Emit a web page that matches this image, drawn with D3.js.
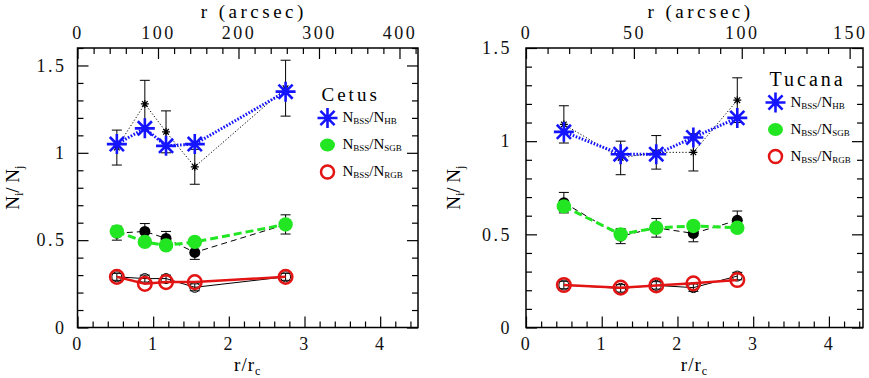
<!DOCTYPE html>
<html>
<head>
<meta charset="utf-8">
<script src="https://cdn.jsdelivr.net/npm/d3@7"></script>
<style>
  body { margin: 0; background: #fff; }
  svg { display: block; }
  .tick text { font-family: "Liberation Serif", serif; font-size: 18px; letter-spacing: 2.5px; fill: #111; }
</style>
</head>
<body>
<div id="chart"></div>
<script>
// Cetus
const cetusR = [0.52, 0.89, 1.17, 1.55, 2.75];
const cetusHB = [1.05, 1.14, 1.04, 1.05, 1.35];
const cetusHBk = [1.03, 1.28, 1.12, 0.92, 1.37];
const cetusHBkErr = [0.10, 0.135, 0.12, 0.10, 0.16];
const cetusSGB = [0.55, 0.49, 0.47, 0.49, 0.59];
const cetusSGBk = [0.54, 0.55, 0.51, 0.43, 0.59];
const cetusSGBkErr = [0.04, 0.045, 0.04, 0.04, 0.055];
const cetusRGB = [0.29, 0.25, 0.26, 0.26, 0.29];
const cetusRGBk = [0.29, 0.28, 0.28, 0.23, 0.29];
const cetusRGBkErr = [0.02, 0.02, 0.02, 0.02, 0.02];

// Tucana
const tucanaR = [0.50, 1.25, 1.72, 2.21, 2.79];
const tucanaHB = [1.05, 0.93, 0.93, 1.02, 1.125];
const tucanaHBk = [1.09, 0.91, 0.94, 0.94, 1.22];
const tucanaHBkErr = [0.10, 0.09, 0.09, 0.10, 0.12];
const tucanaSGB = [0.65, 0.50, 0.535, 0.545, 0.535];
const tucanaSGBk = [0.67, 0.49, 0.535, 0.505, 0.575];
const tucanaSGBkErr = [0.055, 0.04, 0.05, 0.045, 0.05];
const tucanaRGB = [0.228, 0.214, 0.226, 0.237, 0.255];
const tucanaRGBk = [0.228, 0.21, 0.226, 0.214, 0.276];
const tucanaRGBkErr = [0.02, 0.02, 0.02, 0.02, 0.02];

// tick values
const xMajor = [0, 1, 2, 3, 4];
const yMajor = [0, 0.5, 1, 1.5];
const legendLabels = ["HB", "SGB", "RGB"];

const W = 869, H = 378;
const blue = "#1414ff", green = "#22e622", red = "#e31414";
const serif = "Liberation Serif, serif";

const svg = d3.select("#chart").append("svg")
    .attr("width", W).attr("height", H);

const panels = [
    { name: "Cetus", left: 77.5, right: 418, xMax: 4.5, yMax: 1.6, rc: 94.0, arcMax: 400, arcStep: 100, arcMinor: 20,
      r: cetusR, hb: cetusHB, hbk: cetusHBk, hbkErr: cetusHBkErr,
      sgb: cetusSGB, sgbk: cetusSGBk, sgbkErr: cetusSGBkErr,
      rgb: cetusRGB, rgbk: cetusRGBk, rgbkErr: cetusRGBkErr,
      legX: 327.5, legY: 95, nameSize: 19, nameSpacing: 3, yPad: 11, yTitle: 59 },
    { name: "Tucana", left: 526, right: 863, xMax: 4.45, yMax: 1.5, rc: 35.1, arcMax: 150, arcStep: 50, arcMinor: 10,
      r: tucanaR, hb: tucanaHB, hbk: tucanaHBk, hbkErr: tucanaHBkErr,
      sgb: tucanaSGB, sgbk: tucanaSGBk, sgbkErr: tucanaSGBkErr,
      rgb: tucanaRGB, rgbk: tucanaRGBk, rgbkErr: tucanaRGBkErr,
      legX: 775.5, legY: 79.5, nameSize: 20, nameSpacing: 3, yPad: 14, yTitle: 66 }
];

const plotTop = 48, plotBottom = 327.5;
const majorLen = 11, minorLen = 6;

// asterisk shape, 4 strokes through the centre
function asterisk(s) {
    let p = "";
    for (let k = 0; k < 4; k++) {
        const a = k * Math.PI / 4;
        const dx = s * Math.cos(a), dy = s * Math.sin(a);
        p += `M${-dx},${-dy}L${dx},${dy}`;
    }
    return p;
}

function range(a, b, step) {
    const out = [];
    for (let v = a; v <= b + 1e-9; v += step) out.push(+v.toFixed(6));
    return out;
}

panels.forEach(function(p) {
    const x = d3.scaleLinear([0, p.xMax], [p.left, p.right]);
    const y = d3.scaleLinear([0, p.yMax], [plotBottom, plotTop]);
    const xa = d3.scaleLinear([0, p.xMax * p.rc], [p.left, p.right]);
    const g = svg.append("g");

    const fmt = d3.format("~g");

    // minor ticks
    const xMinor = range(0, p.xMax, 0.2).filter(v => !xMajor.includes(v));
    const yMinor = range(0, p.yMax, 0.1).filter(v => !yMajor.includes(v));
    const arcMajor = range(0, p.arcMax, p.arcStep);
    const aMinor = range(0, p.xMax * p.rc, p.arcMinor).filter(v => !arcMajor.includes(v));

    function addAxis(axis, tx, ty) {
        const a = g.append("g").attr("transform", `translate(${tx},${ty})`).call(axis);
        a.select(".domain").remove();
        a.selectAll("line").attr("stroke", "#000").attr("stroke-width", 1.2);
        return a;
    }

    // bottom
    addAxis(d3.axisBottom(x).tickValues(xMajor).tickFormat(fmt).tickSize(-majorLen).tickPadding(10), 0, plotBottom);
    addAxis(d3.axisBottom(x).tickValues(xMinor).tickFormat("").tickSize(-minorLen), 0, plotBottom);
    // top (arcsec)
    addAxis(d3.axisTop(xa).tickValues(arcMajor).tickFormat(fmt).tickSize(-majorLen).tickPadding(9), 0, plotTop);
    addAxis(d3.axisTop(xa).tickValues(aMinor).tickFormat("").tickSize(-minorLen), 0, plotTop);
    // left
    addAxis(d3.axisLeft(y).tickValues(yMajor.filter(v => v <= p.yMax)).tickFormat(fmt).tickSize(-majorLen).tickPadding(p.yPad), p.left, 0);
    addAxis(d3.axisLeft(y).tickValues(yMinor).tickFormat("").tickSize(-minorLen), p.left, 0);
    // right
    addAxis(d3.axisRight(y).tickValues(yMajor.filter(v => v <= p.yMax)).tickFormat("").tickSize(-majorLen), p.right, 0);
    addAxis(d3.axisRight(y).tickValues(yMinor).tickFormat("").tickSize(-minorLen), p.right, 0);

    // frame
    g.append("rect")
        .attr("x", p.left).attr("y", plotTop)
        .attr("width", p.right - p.left).attr("height", plotBottom - plotTop)
        .attr("fill", "none").attr("stroke", "#000").attr("stroke-width", 1.5);

    // titles
    const cx = (p.left + p.right) / 2;
    g.append("text").attr("x", cx + 6).attr("y", 18)
        .attr("text-anchor", "middle")
        .style("font-family", serif).style("font-size", "19px").style("letter-spacing", "3.5px")
        .text("r (arcsec)");
    const bt = g.append("text").attr("x", cx).attr("y", 371)
        .attr("text-anchor", "middle")
        .style("font-family", serif).style("font-size", "19px").style("letter-spacing", "1px");
    bt.append("tspan").text("r/r");
    bt.append("tspan").attr("dy", 4).style("font-size", "12px").text("c");

    const yt = g.append("text")
        .attr("transform", `translate(${p.left - p.yTitle},${(plotTop + plotBottom) / 2}) rotate(-90)`)
        .attr("text-anchor", "middle")
        .style("font-family", serif).style("font-size", "19px");
    yt.append("tspan").text("N");
    yt.append("tspan").attr("dy", 4).style("font-size", "12px").text("i");
    yt.append("tspan").attr("dy", -4).text("/ N");
    yt.append("tspan").attr("dy", 4).style("font-size", "12px").text("j");

    const pts = p.r.map((r, i) => ({
        r: r, hb: p.hb[i], hbk: p.hbk[i], hbkErr: p.hbkErr[i],
        sgb: p.sgb[i], sgbk: p.sgbk[i], sgbkErr: p.sgbkErr[i],
        rgb: p.rgb[i], rgbk: p.rgbk[i], rgbkErr: p.rgbkErr[i]
    }));

    function line(key, color, width, dash) {
        g.append("path")
            .datum(pts)
            .attr("d", d3.line().x(d => x(d.r)).y(d => y(d[key])))
            .attr("fill", "none").attr("stroke", color)
            .attr("stroke-width", width)
            .attr("stroke-dasharray", dash);
    }

    function errors(key, errKey) {
        const e = g.append("g").attr("stroke", "#000").attr("stroke-width", 1);
        pts.forEach(function(d) {
            const x0 = x(d.r), y1 = y(d[key] + d[errKey]), y2 = y(d[key] - d[errKey]);
            e.append("line").attr("x1", x0).attr("x2", x0).attr("y1", y1).attr("y2", y2);
            e.append("line").attr("x1", x0 - 5).attr("x2", x0 + 5).attr("y1", y1).attr("y2", y1);
            e.append("line").attr("x1", x0 - 5).attr("x2", x0 + 5).attr("y1", y2).attr("y2", y2);
        });
    }

    // black comparison series
    line("hbk", "#000", 1, "1.2,2");
    line("sgbk", "#000", 1, "6,4");
    line("rgbk", "#000", 1, null);
    errors("hbk", "hbkErr");
    errors("sgbk", "sgbkErr");
    errors("rgbk", "rgbkErr");

    g.append("g").selectAll("path").data(pts).join("path")
        .attr("transform", d => `translate(${x(d.r)},${y(d.hbk)})`)
        .attr("d", asterisk(4)).attr("stroke", "#000").attr("stroke-width", 1.2);
    g.append("g").selectAll("circle").data(pts).join("circle")
        .attr("cx", d => x(d.r)).attr("cy", d => y(d.sgbk)).attr("r", 5.5).attr("fill", "#000");
    g.append("g").selectAll("circle").data(pts).join("circle")
        .attr("cx", d => x(d.r)).attr("cy", d => y(d.rgbk)).attr("r", 5)
        .attr("fill", "none").attr("stroke", "#000").attr("stroke-width", 1);

    // coloured series
    line("hb", blue, 3, "1.6,1.6");
    line("sgb", green, 3, "8,4");
    line("rgb", red, 2.5, null);

    g.append("g").selectAll("path").data(pts).join("path")
        .attr("transform", d => `translate(${x(d.r)},${y(d.hb)})`)
        .attr("d", asterisk(10)).attr("stroke", blue).attr("stroke-width", 2.6);
    g.append("g").selectAll("circle").data(pts).join("circle")
        .attr("cx", d => x(d.r)).attr("cy", d => y(d.sgb)).attr("r", 7.2).attr("fill", green);
    g.append("g").selectAll("circle").data(pts).join("circle")
        .attr("cx", d => x(d.r)).attr("cy", d => y(d.rgb)).attr("r", 6.8)
        .attr("fill", "none").attr("stroke", red).attr("stroke-width", 2.5);

    // legend
    const lg = g.append("g").attr("transform", `translate(${p.legX},${p.legY})`);
    lg.append("text").attr("x", -6).attr("y", 6)
        .style("font-family", serif).style("font-size", p.nameSize + "px")
        .style("letter-spacing", p.nameSpacing + "px")
        .text(p.name);
    const rows = lg.selectAll("g.row").data(legendLabels).join("g")
        .attr("transform", (d, i) => `translate(0,${23 + i * 27})`);
    rows.each(function(d, i) {
        const r = d3.select(this);
        if (i === 0) r.append("path").attr("d", asterisk(10)).attr("stroke", blue).attr("stroke-width", 2.6);
        if (i === 1) r.append("ellipse").attr("rx", 7.5).attr("ry", 6.5).attr("fill", green);
        if (i === 2) r.append("circle").attr("r", 6.5).attr("fill", "none").attr("stroke", red).attr("stroke-width", 2.5);
        const t = r.append("text").attr("x", 15).attr("y", 4)
            .style("font-family", serif).style("font-size", "15px");
        t.append("tspan").text("N");
        t.append("tspan").attr("dy", 2).style("font-size", "9px").text("BSS");
        t.append("tspan").attr("dy", -2).text("/N");
        t.append("tspan").attr("dy", 2).style("font-size", "9px").text(d);
    });
});
</script>
</body>
</html>
